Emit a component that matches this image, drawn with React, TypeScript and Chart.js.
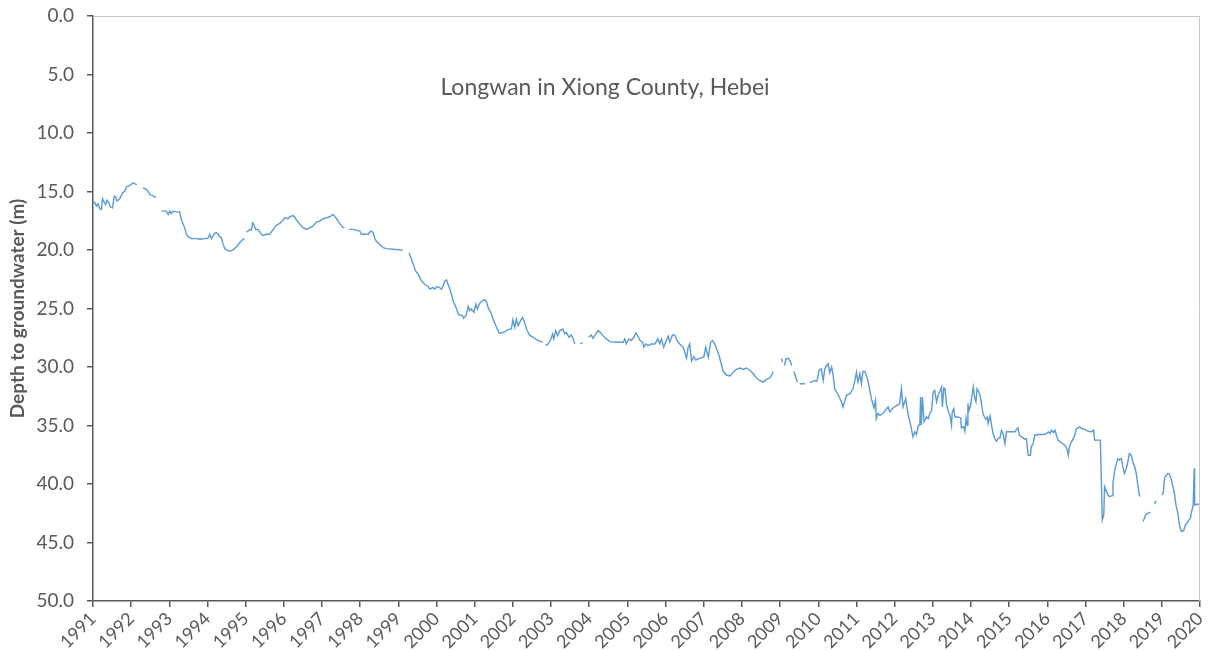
import React, { useEffect, useRef } from "react";
import { Chart, registerables } from "chart.js";

Chart.register(...registerables);

const chartTitle = "Longwan in Xiong County, Hebei";
const yAxisTitle = "Depth to groundwater (m)";
const yearTicks = [1991, 1992, 1993, 1994, 1995, 1996, 1997, 1998, 1999, 2000, 2001, 2002, 2003, 2004, 2005, 2006, 2007, 2008, 2009, 2010, 2011, 2012, 2013, 2014, 2015, 2016, 2017, 2018, 2019, 2020];

// Time (decimal year) and depth (m); null marks a gap in the record
const years: number[] = [
  1991.00, 1991.04, 1991.09, 1991.13, 1991.18, 1991.22, 1991.25, 1991.28, 1991.33, 1991.37, 1991.42, 1991.45, 1991.51, 1991.56, 1991.59, 1991.63, 1991.70, 1991.77, 1991.83, 1991.87, 1991.96, 1992.05, 1992.09, 1992.15, 1992.23,
  1992.31, 1992.38, 1992.44, 1992.49, 1992.56, 1992.62, 1992.64, 1992.72,
  1992.79, 1992.92, 1992.97, 1993.01, 1993.05, 1993.10, 1993.18, 1993.27, 1993.31, 1993.40, 1993.45, 1993.49, 1993.58, 1993.71, 1993.80, 1993.93, 1994.01, 1994.06, 1994.10, 1994.14, 1994.19, 1994.23, 1994.28, 1994.32, 1994.36, 1994.41, 1994.45, 1994.49, 1994.58, 1994.67, 1994.76, 1994.84, 1994.93, 1994.97, 1995.00,
  1995.02, 1995.06, 1995.11, 1995.15, 1995.18, 1995.21, 1995.26, 1995.32, 1995.37, 1995.41, 1995.45, 1995.54, 1995.63, 1995.67, 1995.72, 1995.80, 1995.89, 1995.98, 1996.02, 1996.11, 1996.15, 1996.24, 1996.28, 1996.33, 1996.42, 1996.50, 1996.59, 1996.68, 1996.76, 1996.85, 1996.94, 1997.03, 1997.11, 1997.20, 1997.29, 1997.33, 1997.38, 1997.46, 1997.55, 1997.59, 1997.65,
  1997.71, 1997.81, 1997.90, 1997.99, 1998.03, 1998.12, 1998.21, 1998.25, 1998.29, 1998.34, 1998.38, 1998.42, 1998.51, 1998.60, 1998.69, 1998.86, 1999.12, 1999.18,
  1999.28, 1999.34, 1999.39, 1999.45, 1999.52, 1999.60, 1999.69, 1999.78, 1999.82, 1999.91, 1999.95, 2000.01, 2000.07, 2000.13, 2000.17, 2000.22, 2000.26, 2000.30, 2000.35, 2000.39, 2000.43, 2000.50, 2000.57, 2000.61, 2000.68, 2000.71, 2000.77, 2000.83, 2000.87, 2000.91, 2000.98, 2001.03, 2001.07, 2001.13, 2001.20, 2001.26, 2001.31, 2001.35, 2001.44, 2001.48, 2001.57, 2001.64, 2001.70, 2001.79, 2001.87, 2001.96, 2002.00, 2002.05, 2002.09, 2002.14, 2002.20, 2002.25, 2002.29, 2002.36, 2002.43, 2002.53, 2002.66, 2002.78, 2002.82,
  2002.86, 2002.92, 2002.98, 2003.04, 2003.07, 2003.12, 2003.17, 2003.23, 2003.31, 2003.36, 2003.40, 2003.47, 2003.53, 2003.58, 2003.62, 2003.70,
  2003.77, 2003.81, 2003.90,
  2003.99, 2004.05, 2004.10, 2004.17, 2004.23, 2004.29, 2004.36, 2004.45, 2004.54, 2004.71, 2004.89, 2004.93, 2004.97, 2005.04, 2005.10, 2005.17, 2005.22, 2005.28, 2005.33, 2005.40, 2005.43, 2005.48, 2005.54, 2005.63, 2005.72, 2005.80, 2005.85, 2005.89, 2005.95, 2006.00, 2006.07, 2006.11, 2006.18, 2006.24, 2006.30,
  2006.37, 2006.46, 2006.55, 2006.59, 2006.63, 2006.68, 2006.74, 2006.79, 2006.90, 2007.00, 2007.05, 2007.12, 2007.18, 2007.23, 2007.29, 2007.35, 2007.40, 2007.47, 2007.51, 2007.60, 2007.69, 2007.77, 2007.86, 2007.95, 2008.03, 2008.12, 2008.21, 2008.30, 2008.38, 2008.47, 2008.56, 2008.64, 2008.73, 2008.77, 2008.82, 2008.93,
  2009.04, 2009.06, 2009.09, 2009.12, 2009.15, 2009.21, 2009.27, 2009.30, 2009.33, 2009.36, 2009.41, 2009.45, 2009.48, 2009.52, 2009.65, 2009.71, 2009.78, 2009.91, 2009.95,
  2009.97, 2010.02, 2010.08, 2010.13, 2010.17, 2010.22, 2010.26, 2010.30, 2010.35, 2010.39, 2010.43, 2010.52, 2010.61, 2010.65, 2010.70, 2010.74, 2010.83, 2010.91, 2010.96, 2011.00, 2011.04, 2011.09, 2011.13, 2011.17, 2011.22, 2011.26, 2011.30, 2011.35, 2011.39, 2011.43, 2011.46, 2011.50, 2011.52, 2011.56, 2011.61, 2011.69, 2011.78, 2011.83, 2011.87, 2011.96, 2012.04, 2012.13, 2012.18, 2012.22, 2012.29, 2012.35, 2012.40, 2012.44, 2012.48, 2012.53, 2012.57, 2012.62, 2012.66, 2012.68, 2012.70, 2012.73, 2012.77, 2012.84, 2012.88, 2012.92, 2012.97, 2013.01, 2013.05, 2013.10, 2013.14,
  2013.18, 2013.23, 2013.25, 2013.29, 2013.32, 2013.36, 2013.41, 2013.45, 2013.49, 2013.51, 2013.55, 2013.58, 2013.66, 2013.73, 2013.75, 2013.81, 2013.84, 2013.87, 2013.90, 2013.92, 2013.95, 2013.99, 2014.04, 2014.06, 2014.10, 2014.13, 2014.16, 2014.21, 2014.25, 2014.28, 2014.32, 2014.39, 2014.43, 2014.45, 2014.50, 2014.54, 2014.58, 2014.63, 2014.67, 2014.71, 2014.76, 2014.80, 2014.84, 2014.89, 2014.93, 2015.02, 2015.15, 2015.18, 2015.23, 2015.27, 2015.36, 2015.41, 2015.45, 2015.50, 2015.56, 2015.58, 2015.63, 2015.67, 2015.76, 2015.89, 2015.98, 2016.03, 2016.07, 2016.11, 2016.16, 2016.20, 2016.24, 2016.28, 2016.33, 2016.40, 2016.46, 2016.51, 2016.55, 2016.57, 2016.61, 2016.66, 2016.72, 2016.76, 2016.81, 2016.85, 2016.90, 2016.98, 2017.07, 2017.16, 2017.21, 2017.24, 2017.33, 2017.39, 2017.44, 2017.48, 2017.50, 2017.55, 2017.59, 2017.63, 2017.70, 2017.72, 2017.76, 2017.81, 2017.85, 2017.89, 2017.94, 2017.98, 2018.02, 2018.07, 2018.11, 2018.15, 2018.20, 2018.24, 2018.29, 2018.33, 2018.37, 2018.42, 2018.46,
  2018.51, 2018.58, 2018.64, 2018.70, 2018.76,
  2018.81, 2018.85, 2018.93,
  2019.01, 2019.04, 2019.07, 2019.11, 2019.16, 2019.20, 2019.24, 2019.29, 2019.33, 2019.37, 2019.42, 2019.46, 2019.51, 2019.57, 2019.62, 2019.66, 2019.71, 2019.75, 2019.77, 2019.82, 2019.85, 2019.86, 2019.91, 2020.00,
];

const depths: (number | null)[] = [
  15.97, 15.91, 16.25, 16.05, 16.47, 16.53, 15.62, 15.82, 16.11, 15.74, 15.97, 16.31, 16.40, 15.40, 15.46, 15.82, 15.62, 15.12, 14.98, 14.61, 14.50, 14.27, 14.33, 14.41, null,
  14.70, 14.78, 14.98, 15.26, 15.35, 15.46, 15.54, null,
  16.68, 16.68, 16.96, 16.68, 16.88, 16.68, 16.74, 16.74, 17.38, 18.09, 18.66, 18.86, 19.03, 19.03, 19.08, 19.03, 19.00, 18.66, 19.03, 18.81, 18.58, 18.52, 18.66, 18.86, 18.95, 19.52, 19.88, 20.00, 20.11, 20.00, 19.72, 19.38, 19.08, 19.03, null,
  18.47, 18.38, 18.24, 18.30, 17.67, 17.81, 18.24, 18.24, 18.47, 18.66, 18.75, 18.66, 18.66, 18.47, 18.24, 17.90, 17.73, 17.44, 17.25, 17.33, 17.16, 17.05, 17.16, 17.44, 17.81, 18.09, 18.24, 18.09, 17.96, 17.61, 17.53, 17.33, 17.25, 17.16, 16.96, 17.10, 17.33, 17.73, 18.09, 18.09, null,
  18.24, 18.24, 18.30, 18.38, 18.66, 18.66, 18.66, 18.47, 18.38, 18.52, 18.95, 19.23, 19.52, 19.80, 19.88, 19.94, 20.03, null,
  20.23, 20.80, 21.22, 21.79, 22.07, 22.64, 22.93, 23.12, 23.35, 23.20, 23.35, 23.12, 23.20, 23.35, 23.06, 22.64, 22.55, 22.93, 23.35, 23.77, 24.34, 24.82, 25.47, 25.56, 25.62, 25.84, 25.62, 24.82, 25.19, 25.05, 25.33, 24.62, 25.05, 24.54, 24.34, 24.25, 24.43, 24.91, 25.47, 25.90, 26.61, 27.09, 27.09, 26.98, 26.81, 26.75, 25.96, 26.61, 25.90, 26.47, 26.04, 25.76, 26.04, 26.75, 27.26, 27.46, 27.74, 27.88, null,
  28.17, 28.03, 27.74, 27.18, 27.60, 26.89, 27.32, 26.89, 26.75, 27.18, 27.04, 27.46, 27.26, 27.60, 28.03, null,
  28.03, 27.90, null,
  27.46, 27.26, 27.55, 27.18, 26.89, 27.04, 27.32, 27.60, 27.83, 27.88, 27.88, 27.60, 28.03, 27.60, 27.74, 27.46, 27.09, 27.37, 27.74, 27.88, 28.31, 28.03, 28.17, 28.03, 28.03, 27.60, 28.03, 27.60, 28.31, 27.88, 27.37, 27.88, 27.26, 27.26, 27.74,
  28.03, 28.31, 29.24, 28.31, 28.03, 29.48, 29.12, 29.40, 29.24, 29.16, 28.31, 29.16, 27.89, 27.74, 28.03, 28.59, 29.02, 29.87, 30.37, 30.71, 30.77, 30.44, 30.21, 30.09, 30.21, 30.09, 30.30, 30.58, 30.94, 31.15, 31.29, 31.06, 30.94, 30.77, 30.38, null,
  29.25, 29.59, null, 29.87, 29.30, 29.25, 29.53, 29.87, null, 30.38, 30.87, 31.29, null, 31.43, 31.43, null, 31.34, 31.15, 31.23,
  31.15, 30.30, 30.16, 31.15, 30.16, 29.87, 29.73, 30.49, 30.01, 30.72, 31.86, 32.37, 32.99, 33.42, 32.85, 32.42, 32.28, 31.86, 31.15, 30.44, 31.29, 30.58, 31.43, 30.38, 30.38, 30.72, 31.15, 32.00, 32.71, 33.14, 33.50, 32.85, 34.41, 33.98, 34.13, 33.98, 33.61, 33.41, 33.84, 33.50, 33.33, 33.14, 31.86, 33.41, 32.71, 33.98, 34.69, 35.26, 35.97, 35.54, 35.77, 35.03, 34.92, 32.57, 34.98, 32.57, 34.69, 34.27, 34.41, 33.98, 33.70, 32.14, 31.99, 32.99, 32.42,
  32.14, 31.71, 33.42, 31.80, 31.86, 33.22, 33.84, 34.13, 34.98, 33.84, 33.56, 34.27, 34.27, 34.35, 35.20, 35.11, 35.49, 34.35, 34.98, 33.13, 33.70, 33.27, 32.14, 31.71, 32.71, 32.99, 31.86, 32.14, 32.57, 33.27, 34.07, 34.47, 34.27, 34.84, 34.18, 34.98, 35.69, 36.17, 36.34, 36.11, 36.06, 35.40, 35.69, 36.54, 35.54, 35.54, 35.54, 35.40, 35.20, 35.83, 36.06, 36.17, 36.11, 37.54, 37.54, 36.82, 36.54, 35.83, 35.77, 35.77, 35.69, 35.54, 35.69, 35.40, 35.60, 35.40, 35.83, 36.25, 36.40, 36.54, 36.68, 36.96, 37.54, 36.96, 36.54, 36.25, 35.83, 35.26, 35.20, 35.11, 35.26, 35.31, 35.49, 35.54, 35.40, 36.25, 36.25, 36.25, 43.06, 42.63, 40.23, 40.65, 40.94, 41.08, 40.99, 39.94, 38.95, 38.24, 37.82, 37.96, 37.82, 38.53, 39.09, 38.67, 38.10, 37.39, 37.54, 38.10, 38.53, 39.09, 40.08, 41.08, null,
  43.20, 42.63, 42.49, 42.41, null,
  41.73, 41.44, null,
  40.94, 40.65, 39.51, 39.29, 39.09, 39.17, 39.51, 40.23, 40.79, 41.79, 42.49, 43.48, 44.05, 44.00, 43.48, 43.34, 43.06, 42.92, 42.49, 41.84, 38.66, 41.79, 41.73, 41.73,
];

const GREY = "#595959";

export default function App() {
  const canvasRef = useRef<HTMLCanvasElement | null>(null);

  useEffect(() => {
    const canvas = canvasRef.current;
    if (!canvas) return;

    const decor = {
      id: "decor",
      afterDatasetsDraw(chart: any) {
        const { ctx, chartArea } = chart;
        const { left, top, right, bottom } = chartArea;
        ctx.save();
        ctx.strokeStyle = "#c8c8c8";
        ctx.lineWidth = 1;
        ctx.beginPath();
        ctx.moveTo(left, top + 0.5);
        ctx.lineTo(right, top + 0.5);
        ctx.moveTo(right - 0.5, top);
        ctx.lineTo(right - 0.5, bottom);
        ctx.stroke();
        ctx.fillStyle = GREY;
        ctx.font = "23px Lato";
        ctx.textAlign = "center";
        ctx.textBaseline = "middle";
        ctx.fillText(chartTitle, 605, 88);
        ctx.restore();
      },
    };

    const chart = new Chart(canvas, {
      type: "line",
      data: {
        datasets: [
          {
            data: years.map((x, i) => ({ x, y: depths[i] })),
            borderColor: "#5B9BD5",
            borderWidth: 1.4,
            pointRadius: 0,
            tension: 0,
            spanGaps: false,
          },
        ],
      },
      options: {
        responsive: false,
        animation: false,
        layout: { padding: { left: 0, right: 8, top: 16, bottom: 0 } },
        plugins: { legend: { display: false }, tooltip: { enabled: false } },
        scales: {
          x: {
            type: "linear",
            min: 1991,
            max: 2020,
            afterBuildTicks: (scale: any) => {
              scale.ticks = yearTicks.map((v) => ({ value: v }));
            },
            afterFit: (scale: any) => {
              scale.height = 50;
              scale.paddingRight = 0;
              scale.paddingLeft = 0;
            },
            ticks: {
              callback: (v: any) => String(v),
              minRotation: 45,
              maxRotation: 45,
              autoSkip: false,
              color: GREY,
              font: { family: "Lato", size: 18 },
              padding: 1,
            },
            grid: { drawOnChartArea: false, drawTicks: true, tickLength: 6, color: GREY, lineWidth: 1.5 },
            border: { display: true, color: GREY, width: 1.5 },
          },
          y: {
            reverse: true,
            min: 0,
            max: 50,
            afterFit: (scale: any) => {
              scale.width = 93;
              scale.paddingTop = 0;
              scale.paddingBottom = 0;
            },
            ticks: {
              stepSize: 5,
              callback: (v: any) => Number(v).toFixed(1),
              color: GREY,
              font: { family: "Lato", size: 19 },
              padding: 13,
            },
            title: {
              display: true,
              text: yAxisTitle,
              color: GREY,
              font: { family: "Lato", size: 19, weight: "bold" },
              padding: { top: 6, bottom: 2 },
            },
            grid: { drawOnChartArea: false, drawTicks: true, tickLength: 6, color: GREY, lineWidth: 1.5 },
            border: { display: true, color: GREY, width: 1.5 },
          },
        },
      },
      plugins: [decor],
    } as any);

    return () => chart.destroy();
  }, []);

  return (
    <div style={{ position: "absolute", left: 0, top: 0, width: 1208, height: 651, background: "#fff" }}>
      <canvas ref={canvasRef} width={1208} height={651} />
    </div>
  );
}
